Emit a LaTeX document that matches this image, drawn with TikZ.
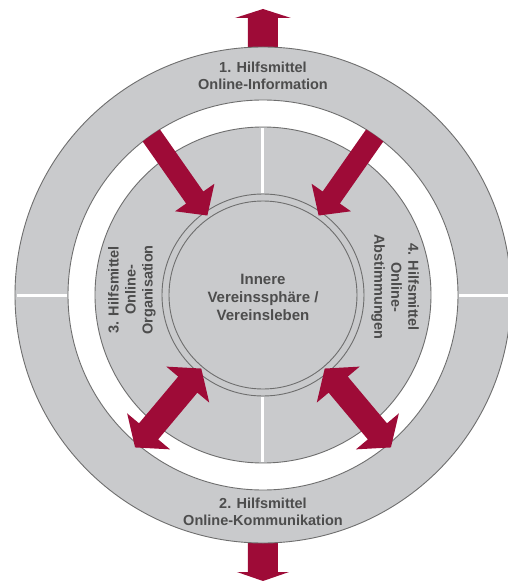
\documentclass[tikz,border=0pt]{standalone}
\usepackage{fontspec}
\setmainfont{Liberation Sans}
\definecolor{ringgray}{HTML}{C9CACC}
\definecolor{linegray}{HTML}{6E6E6E}
\definecolor{arrowred}{HTML}{9E0B37}
\definecolor{txtgray}{HTML}{4D4D4D}
\tikzset{
  ringline/.style={draw=linegray, line width=0.9pt},
  sep/.style={draw=white, line width=3pt},
  lbl/.style={align=center, text=txtgray, font=\bfseries\fontsize{14.5}{17}\selectfont, inner sep=0pt},
  redfill/.style={fill=arrowred, draw=none}
}
\newcommand{\inarrow}[3]{%
  \begin{scope}[rotate=#1]
    \fill[redfill] (#2,10.5) -- (#3+22,10.5) -- (#3+22,24) -- (#3,0) -- (#3+22,-24) -- (#3+22,-10.5) -- (#2,-10.5) -- cycle;
  \end{scope}}
\newcommand{\dblarrow}[3]{%
  \begin{scope}[rotate=#1]
    \fill[redfill] (#2,0) -- (#2+21,28) -- (#2+21,12.5) -- (#3-21,12.5) -- (#3-21,28) -- (#3,0) -- (#3-21,-28) -- (#3-21,-12.5) -- (#2+21,-12.5) -- (#2+21,-28) -- cycle;
  \end{scope}}
\begin{document}
\begin{tikzpicture}[x=1pt,y=1pt]
\useasboundingbox (-263,-286) rectangle (245,295);
\clip (-263,-286) rectangle (245,295);
\fill[white] (-263,-286) rectangle (245,295);
% vertical arrows (under the ring)
\fill[redfill] (-15,230) -- (-15,277) -- (-28,277) -- (0,286) -- (28,277) -- (15,277) -- (15,230) -- cycle;
\fill[redfill] (-15,-230) -- (-15,-277) -- (-26,-277) -- (0,-286) -- (26,-277) -- (15,-277) -- (15,-230) -- cycle;
% outer ring
\fill[ringgray] (0,0) circle (248pt);
\draw[ringline] (0,0) circle (248pt);
\fill[white] (0,0) circle (195pt);
\draw[ringline] (0,0) circle (195pt);
% middle disc
\fill[ringgray] (0,0) circle (168pt);
\draw[ringline] (0,0) circle (168pt);
% separators
\draw[sep] (-246,0) -- (-196,0);
\draw[sep] (196,0) -- (246,0);
\draw[sep] (0,102) -- (0,167);
\draw[sep] (0,-102) -- (0,-167);
% inner double circle
\draw[ringline] (0,0) circle (101pt);
\draw[ringline] (0,0) circle (94pt);
% diagonal arrows
\begin{scope}
  \clip (0,0) circle (195pt);
  \inarrow{125}{220}{97}
  \inarrow{55}{220}{97}
\end{scope}
\dblarrow{230}{96}{199}
\dblarrow{-50}{96}{199}
% labels
\node[lbl] (t1) at (0,219) {1. Hilfsmittel\\Online-Information};
\node[lbl] (t2) at (0,-217) {2. Hilfsmittel\\Online-Kommunikation};
\node[lbl, rotate=90] (t3) at (-131,5) {3. Hilfsmittel\\Online-\\Organisation};
\node[lbl, rotate=-90] (t4) at (132,8) {4. Hilfsmittel\\Online-\\Abstimmungen};
\node[lbl, font=\bfseries\fontsize{15}{18}\selectfont] (c) at (0,-2) {Innere\\Vereinssphäre /\\Vereinsleben};
\end{tikzpicture}
\end{document}
